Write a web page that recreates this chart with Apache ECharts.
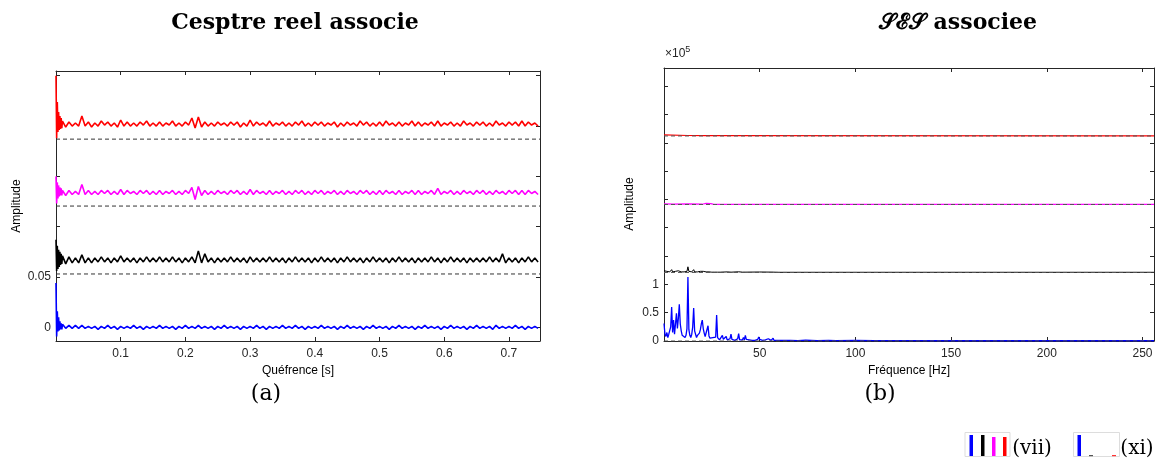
<!DOCTYPE html>
<html><head><meta charset="utf-8">
<script src="https://cdn.jsdelivr.net/npm/echarts@6.0.0/dist/echarts.min.js"></script>
<style>html,body{margin:0;padding:0;background:#fff}#c{width:1162px;height:466px}</style>
</head><body><div id="c"></div>
<script>
// ---------- DATA (a): real cepstrum, amplitudes in units of 1e-3 ----------
const CEPS_HEAD_STEP = 0.001;   // s, samples 0 .. 0.009
const CEPS_BODY_START = 0.01;   // s
const CEPS_BODY_STEP = 0.005;   // s
const cepsOffsets = { blue: 0, black: 0.067, magenta: 0.134, red: 0.202 };
const cepsDashLevels = [0.053, 0.1205, 0.187];
const redHead = [48,-14,22,-8,12,-6,8,-5,6,-4];
const magentaHead = [16,-11,10,-6,7,-4,5,-3,4,-3];
const blackHead = [20,-11,14,-9,10,-7,8,-5,6,-4];
const blueHead = [44,-9,16,-4,10,-3,6,-2,4,-2];
const redBody = [3,-3,2,-2,1,-2,8,-2,2,-3,
 1,-2,3,-1,2,-2,1,-3,4,-2, 2,-2,1,-2,2,-1,3,-2,1,-2, 2,-2,1,-1,3,-2,1,-2,2,-1,
 6,-4,7,-3,2,-2,1,-2,2,-1, 1,-2,2,-1,2,-3,1,-2,4,-2, 2,-1,1,-2,3,-2,1,-1,2,-2,
 1,-2,2,-1,3,-2,1,-2,2,-1, 2,-2,1,-1,2,-3,1,-2,2,-1, 1,-2,3,-1,2,-2,1,-2,2,-2,
 3,-1,1,-2,2,-2,1,-1,3,-2, 2,-2,1,-1,2,-2,3,-2,1,-1, 2,-2,1,-2,3,-1,1,-2,2,-1,
 2,-2,1,-2,3,-1,1,-2,2,-1, 2,-2,3,-2,2,-1,1,-2];
const magentaBody = [2,-3,2,-2,1,-2,8,-2,2,-2,
 1,-2,2,-1,2,-2,1,-2,3,-2, 2,-1,1,-2,2,-1,2,-2,1,-2, 2,-2,1,-1,2,-2,1,-2,2,-1,
 5,-7,6,-3,2,-2,1,-2,2,-1, 1,-2,2,-1,2,-2,1,-2,3,-2, 2,-1,1,-2,2,-2,1,-1,2,-2,
 1,-2,2,-1,2,-2,1,-2,2,-1, 2,-2,1,-1,2,-2,1,-2,2,-1, 1,-2,2,-1,2,-2,1,-2,2,-2,
 2,-1,1,-2,2,-2,1,-1,2,-2, 2,-2,1,-1,2,-2,4,-2,1,-1, 2,-2,1,-2,2,-1,1,-2,2,-1,
 2,-2,1,-2,2,-1,1,-2,2,-1, 2,-2,2,-2,2,-1,1,-2];
const blackBody = [4,-4,3,-3,2,-3,5,-3,2,-3,
 2,-2,3,-2,2,-3,2,-2,4,-2, 2,-2,2,-3,2,-2,3,-2,2,-2, 3,-2,2,-2,3,-2,2,-3,2,-2,
 3,-3,9,-3,6,-2,2,-3,2,-2, 2,-2,3,-2,2,-2,2,-3,3,-2, 2,-2,2,-2,3,-2,2,-2,2,-3,
 2,-2,3,-2,2,-2,2,-3,2,-2, 3,-2,2,-2,2,-3,2,-2,3,-2, 2,-2,2,-3,2,-2,3,-2,2,-2,
 2,-3,2,-2,3,-2,2,-2,2,-3, 2,-2,2,-2,3,-2,2,-3,2,-2, 3,-2,2,-2,2,-3,2,-2,2,-2,
 2,-2,3,-2,2,-2,6,-3,2,-2, 2,-3,2,-2,3,-2,2,-2];
const blueBody = [3,-1,2,-1,2,-1,2,-1,1,-1,
 1,-2,1,-1,2,-1,1,-2,1,-1, 1,-1,2,-1,1,-2,1,-1,1,-1, 2,-1,1,-1,1,-2,1,-1,2,-1,
 1,-1,2,-1,1,-1,1,-2,1,-1, 2,-1,1,-1,1,-2,1,-1,1,-1, 2,-1,1,-2,1,-1,1,-1,2,-1,
 1,-1,2,-1,1,-2,1,-1,1,-1, 2,-1,1,-1,1,-2,1,-1,2,-1, 1,-1,1,-2,1,-1,2,-1,1,-1,
 1,-2,1,-1,2,-1,1,-1,1,-2, 1,-1,2,-1,1,-1,1,-2,1,-1, 2,-1,1,-1,1,-2,1,-1,2,-1,
 1,-1,1,-2,2,-1,1,-1,1,-1, 2,-1,1,-2,1,-1,1,-1];
const cepsXTicks = [0.1,0.2,0.3,0.4,0.5,0.6,0.7];
const cepsYTicks = [0,0.05,0.1,0.15,0.2,0.25];
const cepsYLabels = [0,0.05];

// ---------- DATA (b): SES, amplitudes in units of 1e5 ----------
const SES_STEP = 0.5; // Hz
const sesOffsets = { blue: 0, black: 1.21, magenta: 2.41, red: 3.62 };
const sesDashLevels = [0, 1.21, 2.41, 3.62];
const sesBlueDense = [0.31,0.12,0.08,0.15,0.06,0.12,0.09,0.25,0.60,0.15,
 0.37,0.12,0.30,0.49,0.22,0.40,0.65,0.30,0.18,0.10,
 0.07,0.12,0.06,0.10,0.22,1.13,0.20,0.10,0.06,0.12,
 0.25,0.58,0.18,0.12,0.06,0.10,0.08,0.14,0.20,0.30,
 0.37,0.22,0.14,0.08,0.06,0.10,0.27,0.09,0.05,0.07,
 0.04,0.06,0.03,0.05,0.07,0.46,0.06,0.03,0.02,0.04,
 0.02,0.10,0.03,0.02,0.06,0.08,0.02,0.03,0.01,0.04,
 0.12,0.03,0.02,0.05,0.01,0.03,0.02,0.04,0.13,0.02,
 0.01,0.03,0.02,0.06,0.02,0.10,0.03,0.01,0.04,0.02,
 0.01,0.03,0.01,0.02,0.04,0.01,0.02,0.01,0.03,0.07,
 0.03,0.01,0.02,0.01,0.03,0.01,0.02,0.01,0.01,0.04,
 0.01,0.02,0.01,0.01,0.05,0.01,0.02,0.01,0.01,0.02,
 0.01,0.01,0.02,0.01,0.01,0.01,0.02,0.01,0.01];
const sesBlueTail = [[66,0.01],[70,0.005],[74,0.015],[80,0.005],[86,0.01],[90,0.005],[100,0.01],[110,0.005],[120,0.005],[130,0.008],[140,0.004],[150,0.005],[160,0.004],[170,0.006],[180,0.004],[190,0.005],[200,0.004],[210,0.005],[220,0.004],[230,0.005],[240,0.004],[250,0.004],[256,0.004]];
const sesBlackDense = [0.03,0.01,0.01,0.02,0.01,0.01,0.01,0.02,0.05,0.01,
 0.03,0.01,0.02,0.04,0.02,0.03,0.06,0.02,0.01,0.01,
 0.01,0.01,0.01,0.01,0.02,0.10,0.02,0.01,0.01,0.01,
 0.02,0.05,0.01,0.01,0.01,0.01,0.01,0.01,0.02,0.02,
 0.03,0.02,0.01,0.01,0.01,0.01,0.03,0.01,0.005,0.01,
 0.005,0.01,0.005,0.005,0.01,0.025,0.005,0.005,0.005,0.005,0.005];
const sesBlackTail = [[33,0.01],[35,0.005],[39,0.012],[41,0.005],[50,0.008],[57,0.006],[60,0.003],[256,0.003]];
const sesMagenta = [[0,0.01],[5,0.005],[12.5,0.01],[20,0.005],[22,0.02],[23,0.005],[24.5,0.015],[26,0.003],[256,0.003]];
const sesRed = [[0,0.02],[1,0.005],[12.5,0.008],[21,0.005],[22,0.015],[23,0.005],[256,0.003]];
const sesXTicks = [50,100,150,200,250];
const sesYTicks = [0,0.5,1,1.5,2,2.5,3,3.5,4,4.5];
const sesYLabels = [0,0.5,1];

// ---------- build ----------
function buildCeps(head, body, off) {
  const out = [];
  head.forEach((v, k) => out.push([k * CEPS_HEAD_STEP, off + v * 1e-3]));
  body.forEach((v, k) => out.push([CEPS_BODY_START + k * CEPS_BODY_STEP, off + v * 1e-3]));
  return out;
}
function buildSes(dense, tail, off) {
  const out = dense.map((v, k) => [k * SES_STEP, off + v]);
  tail.forEach(p => out.push([p[0], off + p[1]]));
  return out;
}
const CEPS_XMAX = 0.748, CEPS_YMIN = -0.0136, CEPS_YMAX = 0.2547;
const SES_XMAX = 256, SES_YMAX = 4.82;

const AX = '#262626';
const SANS = 'Liberation Sans, Arial, sans-serif';
const SERIF = 'DejaVu Serif, serif';
function xAx(grid, min, max, ticks, pos, labels) {
  return { type:'value', gridIndex:grid, min, max, position:pos,
    axisLine:{ show:true, onZero:false, lineStyle:{ color:AX, width:1 } },
    axisTick:{ show:true, inside:true, length:4, customValues:ticks, lineStyle:{ color:AX } },
    axisLabel:{ show:labels, customValues:ticks, color:AX, fontSize:12, fontFamily:SANS, margin:7 },
    splitLine:{ show:false } };
}
function yAx(grid, min, max, ticks, labelVals, pos, labels) {
  return { type:'value', gridIndex:grid, min, max, position:pos,
    axisLine:{ show:true, onZero:false, lineStyle:{ color:AX, width:1 } },
    axisTick:{ show:true, inside:true, length:4, customValues:ticks, lineStyle:{ color:AX } },
    axisLabel:{ show:labels, customValues:labelVals, color:AX, fontSize:12, fontFamily:SANS, margin:5 },
    splitLine:{ show:false } };
}
function line(xi, yi, data, color, w, z, dashed) {
  return { type:'line', xAxisIndex:xi, yAxisIndex:yi, data, showSymbol:false, symbol:'none',
    animation:false, sampling:null, z, silent:true,
    lineStyle:{ color, width:w, type: dashed ? [4,3] : 'solid' } };
}
const series = [];
series.push(line(0,0,buildCeps(blueHead, blueBody, cepsOffsets.blue), '#0000ff', 1.6, 2));
series.push(line(0,0,buildCeps(blackHead, blackBody, cepsOffsets.black), '#000000', 1.6, 2));
series.push(line(0,0,buildCeps(magentaHead, magentaBody, cepsOffsets.magenta), '#ff00ff', 1.6, 2));
series.push(line(0,0,buildCeps(redHead, redBody, cepsOffsets.red), '#ff0000', 1.6, 2));
cepsDashLevels.forEach(l => series.push(line(0,0,[[0,l],[CEPS_XMAX,l]], '#333333', 1, 3, true)));
series.push(line(2,2,buildSes(sesBlueDense, sesBlueTail, sesOffsets.blue), '#0000ff', 1.3, 2));
series.push(line(2,2,buildSes(sesBlackDense, sesBlackTail, sesOffsets.black), '#000000', 1, 2));
series.push(line(2,2,sesMagenta.map(p => [p[0], sesOffsets.magenta + p[1]]), '#ff00ff', 1.2, 2));
series.push(line(2,2,sesRed.map(p => [p[0], sesOffsets.red + p[1]]), '#ff0000', 1.2, 2));
sesDashLevels.forEach(l => series.push(line(2,2,[[0,l],[SES_XMAX,l]], '#555555', 1, 3, true)));

function txt(x, y, text, font, extra) {
  return Object.assign({ type:'text', x, y, silent:true,
    style:{ text, font, fill:'#000', align:'center', verticalAlign:'middle', textAlign:'center', textVerticalAlign:'middle' } }, extra || {});
}
const chart = echarts.init(document.getElementById('c'), null, { renderer:'canvas' });
chart.setOption({
  animation:false,
  backgroundColor:'#fff',
  grid:[
    { left:56, top:71, right:1162-540, bottom:466-341, show:false },
    { left:664, top:68, right:1162-1154, bottom:466-341, show:false }
  ],
  xAxis:[
    xAx(0, 0, CEPS_XMAX, cepsXTicks, 'bottom', true),
    xAx(0, 0, CEPS_XMAX, cepsXTicks, 'top', false),
    xAx(1, 0, SES_XMAX, sesXTicks, 'bottom', true),
    xAx(1, 0, SES_XMAX, sesXTicks, 'top', false)
  ],
  yAxis:[
    yAx(0, CEPS_YMIN, CEPS_YMAX, cepsYTicks, cepsYLabels, 'left', true),
    yAx(0, CEPS_YMIN, CEPS_YMAX, cepsYTicks, cepsYLabels, 'right', false),
    yAx(1, 0, SES_YMAX, sesYTicks, sesYLabels, 'left', true),
    yAx(1, 0, SES_YMAX, sesYTicks, sesYLabels, 'right', false)
  ],
  series,
  graphic:[
    txt(295, 23, 'Cesptre reel associe', 'bold 22px ' + SERIF),
    txt(958, 23, '\u{1D4AE}\u2130\u{1D4AE} associee', 'bold 22px ' + SERIF),
    txt(17, 206, 'Amplitude', '12px ' + SANS, { rotation: Math.PI/2 }),
    txt(630, 204, 'Amplitude', '12px ' + SANS, { rotation: Math.PI/2 }),
    txt(298, 371, 'Quéfrence [s]', '12px ' + SANS),
    txt(909, 371, 'Fréquence [Hz]', '12px ' + SANS),
    txt(266, 394, '(a)', '22px ' + SERIF),
    txt(880, 394, '(b)', '22px ' + SERIF),
    { type:'text', x:665, y:62, silent:true, style:{ text:'{a|×10}{b|5}', fill:'#262626', align:'left', verticalAlign:'bottom', textAlign:'left', textVerticalAlign:'bottom',
      rich:{ a:{ fontSize:12, fontFamily:SANS, fill:'#262626', color:'#262626' }, b:{ fontSize:9, fontFamily:SANS, fill:'#262626', color:'#262626', verticalAlign:'top', padding:[0,0,8,0] } } } },
    // legend icons
    { type:'rect', shape:{ x:965, y:432.5, width:45, height:24 }, style:{ fill:'#fff', stroke:'#dddddd', lineWidth:1 }, silent:true },
    { type:'rect', shape:{ x:969.5, y:435, width:3.5, height:21 }, style:{ fill:'#0000ff' }, silent:true },
    { type:'rect', shape:{ x:981, y:435, width:3.5, height:21 }, style:{ fill:'#000000' }, silent:true },
    { type:'rect', shape:{ x:992, y:437, width:3.5, height:19 }, style:{ fill:'#ff00ff' }, silent:true },
    { type:'rect', shape:{ x:1003, y:437, width:3.5, height:19 }, style:{ fill:'#ff0000' }, silent:true },
    txt(1032, 449, '(vii)', '20px ' + SERIF),
    { type:'rect', shape:{ x:1073.5, y:432.5, width:46, height:24 }, style:{ fill:'#fff', stroke:'#dddddd', lineWidth:1 }, silent:true },
    { type:'rect', shape:{ x:1077.5, y:435, width:3.5, height:21 }, style:{ fill:'#0000ff' }, silent:true },
    { type:'rect', shape:{ x:1089, y:455, width:4, height:1.2 }, style:{ fill:'#555555' }, silent:true },
    { type:'rect', shape:{ x:1112, y:455, width:4, height:1.2 }, style:{ fill:'#ff3333' }, silent:true },
    txt(1137, 449, '(xi)', '20px ' + SERIF)
  ]
});
</script></body></html>
